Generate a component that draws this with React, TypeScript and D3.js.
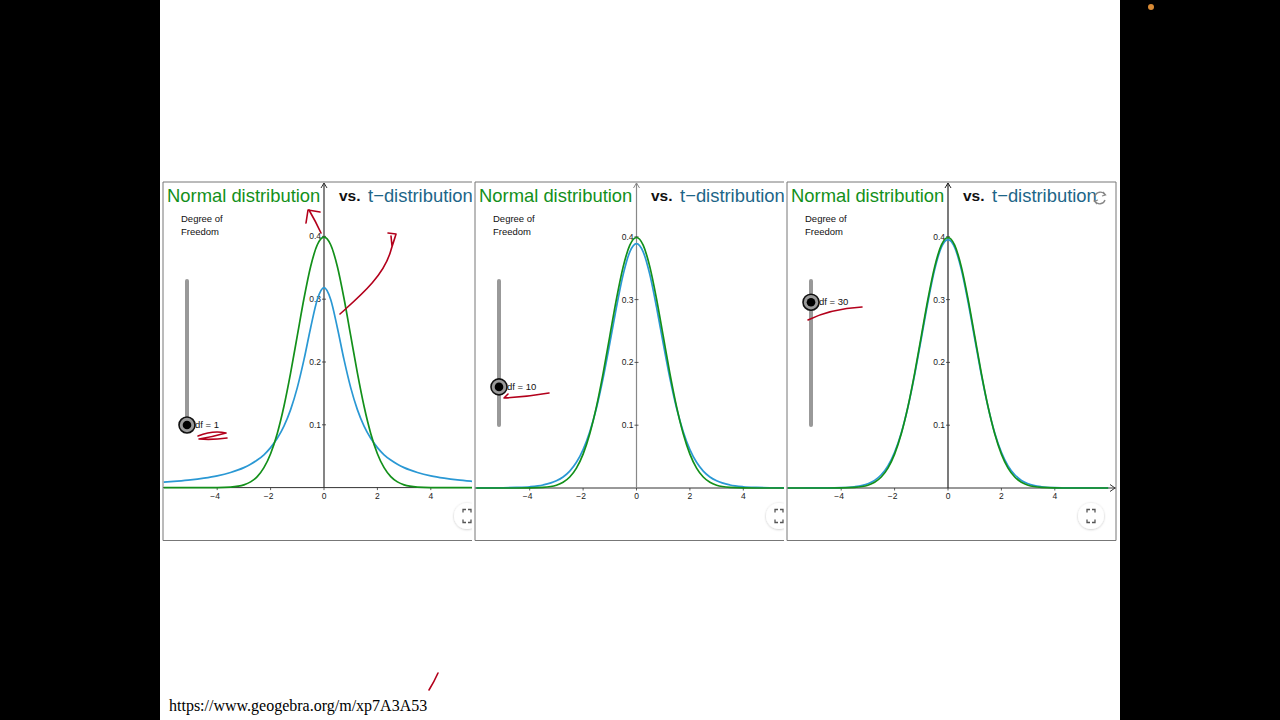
import React from 'react';
import * as d3 from 'd3';

// sample points (x, density)
const xs = [-6, -5.5, -5, -4.5, -4, -3.5, -3, -2.75, -2.5, -2.25, -2, -1.75, -1.5, -1.25, -1, -0.75, -0.5, -0.25, 0,
  0.25, 0.5, 0.75, 1, 1.25, 1.5, 1.75, 2, 2.25, 2.5, 2.75, 3, 3.5, 4, 4.5, 5, 5.5, 6];

const normalY = [0, 0, 0, 0, 0.0001, 0.0009, 0.0044, 0.0091, 0.0175, 0.0317, 0.054, 0.0863, 0.1295, 0.1826, 0.242, 0.3011, 0.3521, 0.3867, 0.3989,
  0.3867, 0.3521, 0.3011, 0.242, 0.1826, 0.1295, 0.0863, 0.054, 0.0317, 0.0175, 0.0091, 0.0044, 0.0009, 0.0001, 0, 0, 0, 0];

const tDf1 = [0.0086, 0.0102, 0.0122, 0.015, 0.0187, 0.0241, 0.0318, 0.0372, 0.0439, 0.0523, 0.0637, 0.0785, 0.0979, 0.1242, 0.1592, 0.2037, 0.2546, 0.2996, 0.3183,
  0.2996, 0.2546, 0.2037, 0.1592, 0.1242, 0.0979, 0.0785, 0.0637, 0.0523, 0.0439, 0.0372, 0.0318, 0.0241, 0.0187, 0.015, 0.0122, 0.0102, 0.0086];

const tDf10 = [0.0001, 0.0002, 0.0004, 0.0009, 0.002, 0.0048, 0.0114, 0.0176, 0.0269, 0.0409, 0.0611, 0.0895, 0.1274, 0.1751, 0.2304, 0.288, 0.3397, 0.376, 0.3891,
  0.376, 0.3397, 0.288, 0.2304, 0.1751, 0.1274, 0.0895, 0.0611, 0.0409, 0.0269, 0.0176, 0.0114, 0.0048, 0.002, 0.0009, 0.0004, 0.0002, 0.0001];

const tDf30 = [0, 0, 0.0001, 0.0001, 0.0005, 0.002, 0.0068, 0.0121, 0.0211, 0.0353, 0.0569, 0.0877, 0.129, 0.1801, 0.238, 0.2966, 0.3478, 0.3831, 0.3956,
  0.3831, 0.3478, 0.2966, 0.238, 0.1801, 0.129, 0.0877, 0.0569, 0.0353, 0.0211, 0.0121, 0.0068, 0.002, 0.0005, 0.0001, 0.0001, 0, 0];

const dfValues = [1, 10, 30];
const tSeries = [tDf1, tDf10, tDf30];
const xTicks = [-4, -2, 0, 2, 4];
const yTicks = [0.1, 0.2, 0.3, 0.4];

const GREEN = '#13901a';
const BLUE = '#2a98d4';
const RED = '#b3001b';
const SANS = '"Liberation Sans", Arial, Helvetica, sans-serif';

// panel frames on the slide
const panels = [
  { left: 163, right: 472, axisX: 324, axisY: 487.6, yAxisColor: '#333', border: [true, false] },
  { left: 475, right: 784, axisX: 636.5, axisY: 488, yAxisColor: '#888', border: [true, false] },
  { left: 787, right: 1116, axisX: 948, axisY: 488, yAxisColor: '#222', border: [true, true] },
];
const TOP = 182;
const BOTTOM = 540.5;
const UNIT = 26.7;
const TENTH = 62.8;

function Panel({ idx }: { idx: number }) {
  const p = panels[idx];
  const df = dfValues[idx];
  const tY = tSeries[idx];
  const x = d3.scaleLinear().domain([0, 1]).range([p.axisX, p.axisX + UNIT]);
  const y = d3.scaleLinear().domain([0, 0.1]).range([p.axisY, p.axisY - TENTH]);
  const slider = d3.scaleLinear().domain([1, 35]).range([425, 281]);
  const line = d3.line<number>().x((_, i) => x(xs[i])).y((d) => y(d)).curve(d3.curveMonotoneX);
  const clipId = `clip${idx}`;
  const sx = p.left + 24;
  const ky = slider(df);
  const btnX = p.left + 304;
  return (
    <g>
      <defs>
        <clipPath id={clipId}>
          <rect x={p.left} y={TOP} width={p.right - p.left} height={BOTTOM - TOP} />
        </clipPath>
        <filter id={`sh${idx}`} x="-50%" y="-50%" width="200%" height="200%">
          <feDropShadow dx={0} dy={0.5} stdDeviation={1.2} floodColor="#000" floodOpacity={0.25} />
        </filter>
      </defs>
      <rect x={p.left} y={TOP} width={p.right - p.left} height={BOTTOM - TOP} fill="#fff" />
      <g clipPath={`url(#${clipId})`}>
        {/* x axis */}
        <line x1={p.left} x2={p.right} y1={p.axisY} y2={p.axisY} stroke="#333" strokeWidth={1} />
        {idx === 2 && (
          <path d={`M${p.right - 6},${p.axisY - 3.5} L${p.right - 1},${p.axisY} L${p.right - 6},${p.axisY + 3.5}`} fill="none" stroke="#333" strokeWidth={1} />
        )}
        {/* y axis */}
        <line x1={p.axisX} x2={p.axisX} y1={TOP + 1} y2={p.axisY} stroke={p.yAxisColor} strokeWidth={1.2} />
        <path d={`M${p.axisX - 3},${TOP + 6} L${p.axisX},${TOP + 1} L${p.axisX + 3},${TOP + 6}`} fill="none" stroke={p.yAxisColor} strokeWidth={1} />
        {xTicks.map((t) => (
          <g key={t}>
            <line x1={x(t)} x2={x(t)} y1={p.axisY} y2={p.axisY + 2.5} stroke="#333" strokeWidth={0.8} />
            <text x={x(t) - (t < 0 ? 2 : 0)} y={p.axisY + 11} fontSize={8.5} fontFamily={SANS} textAnchor="middle" fill="#222">
              {t < 0 ? `\u2212${-t}` : t}
            </text>
          </g>
        ))}
        {yTicks.map((t) => (
          <g key={t}>
            <line x1={p.axisX - 2} x2={p.axisX + 2} y1={y(t)} y2={y(t)} stroke="#333" strokeWidth={0.8} />
            <text x={p.axisX - 3} y={y(t) + 3} fontSize={8.5} fontFamily={SANS} textAnchor="end" fill="#222">
              {t}
            </text>
          </g>
        ))}
        {/* curves */}
        <path d={line(tY) || ''} fill="none" stroke={BLUE} strokeWidth={1.7} />
        <path d={line(normalY) || ''} fill="none" stroke={GREEN} strokeWidth={1.7} />
        {/* title */}
        <text x={p.left + 4} y={202} fontSize={18.4} fontFamily={SANS} fill={GREEN}>Normal distribution</text>
        <text x={p.left + 176} y={201} fontSize={15.5} fontFamily={SANS} fontWeight="bold" fill="#111">vs.</text>
        <text x={p.left + 205} y={202} fontSize={18.4} fontFamily={SANS} fill="#1d6688">t{'\u2212'}distribution</text>
        <text x={p.left + 18} y={222} fontSize={9.5} fontFamily={SANS} fill="#111">Degree of</text>
        <text x={p.left + 18} y={235} fontSize={9.5} fontFamily={SANS} fill="#111">Freedom</text>
        {/* slider */}
        <line x1={sx} x2={sx} y1={slider(35)} y2={slider(1)} stroke="#999" strokeWidth={4} strokeLinecap="round" />
        <text x={sx + 8} y={ky + 3} fontSize={9.5} fontFamily={SANS} fill="#111">df = {df}</text>
        <circle cx={sx} cy={ky} r={8} fill="#9a9a9a" stroke="#111" strokeWidth={1.6} />
        <circle cx={sx} cy={ky} r={4.3} fill="#000" />
        {/* fullscreen button */}
        <circle cx={btnX} cy={516} r={13} fill="#fff" filter={`url(#sh${idx})`} />
        <path
          d={`M${btnX - 4},${512.5} v-3 h3 M${btnX + 1},${509.5} h3 v3 M${btnX + 4},${519.5} v3 h-3 M${btnX - 1},${522.5} h-3 v-3`}
          fill="none" stroke="#555" strokeWidth={1.3}
        />
      </g>
      {/* frame */}
      <line x1={p.left} x2={p.left} y1={TOP} y2={BOTTOM} stroke="#777" strokeWidth={1} />
      <line x1={p.left} x2={p.right} y1={TOP} y2={TOP} stroke="#777" strokeWidth={1} />
      <line x1={p.left} x2={p.right} y1={BOTTOM} y2={BOTTOM} stroke="#777" strokeWidth={1} />
      {p.border[1] && <line x1={p.right} x2={p.right} y1={TOP} y2={BOTTOM} stroke="#777" strokeWidth={1} />}
    </g>
  );
}

export default function App() {
  return (
    <div style={{ position: 'fixed', left: 0, top: 0, width: 1280, height: 720, background: '#000' }}>
      <svg width={1280} height={720} style={{ display: 'block' }}>
        <rect x={0} y={0} width={1280} height={720} fill="#000" />
        <rect x={160} y={0} width={960} height={720} fill="#fff" />
        {panels.map((_, i) => <Panel key={i} idx={i} />)}
        {/* refresh icon */}
        <g transform="translate(1100,198)" fill="none" stroke="#888" strokeWidth={1.3}>
          <path d="M5,-3 A5.5,5.5 0 0 0 -5,-2" />
          <path d="M-5,3 A5.5,5.5 0 0 0 5,2" />
          <path d="M3,-6 L5.5,-3 L2,-2" />
          <path d="M-3,6 L-5.5,3 L-2,2" />
        </g>
        {/* hand-drawn annotations */}
        <g fill="none" stroke={RED} strokeWidth={1.6} strokeLinecap="round" strokeLinejoin="round">
          <path d="M321,233 Q316,222 309,210" />
          <path d="M306,223 L308,210 L320,212" />
          <path d="M340,314 C360,296 384,276 391,250 C393,243 395,238 396,234 L388,233 M392,246 L391,236" />
          <path d="M198,436 Q213,430 226,433 Q212,437 199,439 Q213,440 227,438" />
          <path d="M549,393 Q526,397 504,398 L508,394" />
          <path d="M808,320 Q830,309 862,307" />
          <path d="M429,690 Q434,682 438,673" />
        </g>
        <circle cx={1151} cy={7} r={3} fill="#d88a35" />
        <text x={169} y={711} fontSize={16} fontFamily='"Liberation Serif", "Times New Roman", serif' fill="#000">
          https://www.geogebra.org/m/xp7A3A53
        </text>
      </svg>
    </div>
  );
}
